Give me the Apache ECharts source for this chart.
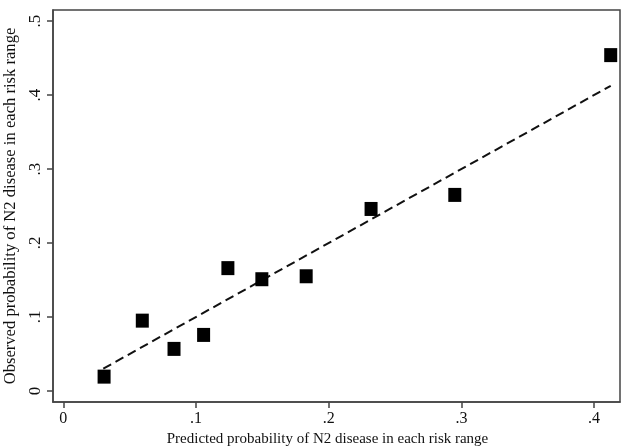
<!DOCTYPE html>
<html>
<head>
<meta charset="utf-8">
<script src="https://cdn.jsdelivr.net/npm/echarts@6/dist/echarts.min.js"></script>
<style>
  html, body { margin: 0; padding: 0; background: #fff; }
  #chart { width: 622px; height: 446px; }
</style>
</head>
<body>
<div id="chart"></div>
<script>
// observed vs predicted, one point per risk range
var predicted = [0.0307, 0.0595, 0.0834, 0.1057, 0.124, 0.1496, 0.183, 0.2319, 0.295, 0.4125];
var observed  = [0.0193, 0.095, 0.0568, 0.0757, 0.166, 0.151, 0.155, 0.246, 0.265, 0.454];
// reference line y = x across the predicted range
var refLine = [0.0301, 0.4125];
var xTicks = [0, 0.1, 0.2, 0.3, 0.4];
var yTicks = [0, 0.1, 0.2, 0.3, 0.4, 0.5];

function tickText (v) {
    if (v === 0) return '0';
    return String(Math.round(v * 10) / 10).replace(/^0/, '');
}

var chartobj = echarts.init(document.getElementById('chart'));
var points = predicted.map(function (p, i) { return [p, observed[i]]; });
var lineData = refLine.map(function (v) { return [v, v]; });
var fontFam = '"Liberation Serif", "DejaVu Serif", serif';

var option = {
    animation: false,
    backgroundColor: '#fff',
    grid: {
        left: 53, top: 10, right: 2, bottom: 44,
        containLabel: false,
        outerBoundsMode: 'none',
        show: true,
        borderColor: '#444',
        borderWidth: 1.5
    },
    xAxis: {
        type: 'value',
        min: -0.0078,
        max: 0.4195,
        name: 'Predicted probability of N2 disease in each risk range',
        nameLocation: 'middle',
        nameGap: 29,
        nameTextStyle: { fontFamily: fontFam, fontSize: 15, color: '#111', padding: [0, 18, 0, 0] },
        axisLine: { show: true, onZero: false, lineStyle: { color: '#444', width: 1.5 } },
        axisTick: { show: true, length: 6, customValues: xTicks, lineStyle: { color: '#444', width: 1.5 } },
        axisLabel: {
            customValues: xTicks,
            formatter: tickText,
            fontFamily: fontFam, fontSize: 16, color: '#111', margin: 9
        },
        splitLine: { show: false }
    },
    yAxis: {
        type: 'value',
        min: -0.015,
        max: 0.515,
        name: 'Observed probability of N2 disease in each risk range',
        nameLocation: 'middle',
        nameGap: 27,
        nameTextStyle: { fontFamily: fontFam, fontSize: 16.6, color: '#111' },
        axisLine: { show: true, onZero: false, lineStyle: { color: '#444', width: 1.5 } },
        axisTick: { show: true, length: 6, customValues: yTicks, lineStyle: { color: '#444', width: 1.5 } },
        axisLabel: {
            customValues: yTicks,
            formatter: tickText,
            rotate: 90,
            fontFamily: fontFam, fontSize: 17, color: '#111', margin: 9
        },
        splitLine: { show: false }
    },
    series: [
        {
            type: 'line',
            data: lineData,
            symbol: 'none',
            lineStyle: { color: '#111', width: 2, type: [9, 5] },
            z: 1
        },
        {
            type: 'scatter',
            data: points,
            symbol: 'rect',
            symbolSize: [13, 14],
            itemStyle: { color: '#000', opacity: 1 },
            z: 2
        }
    ]
};
chartobj.setOption(option);
</script>
</body>
</html>
